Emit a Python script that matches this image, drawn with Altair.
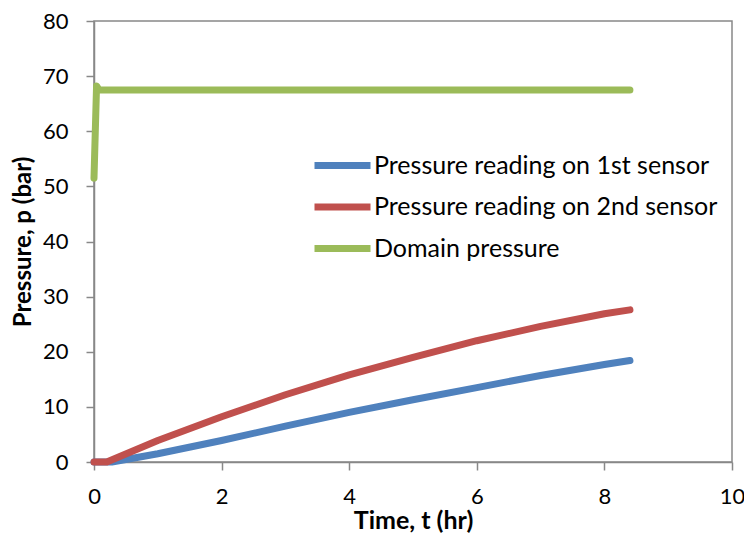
import altair as alt
import pandas as pd

# Data
t_s1 = [0.0, 0.28, 1.0, 2.0, 3.0, 4.0, 5.0, 6.0, 7.0, 8.0, 8.4]
p_s1 = [0.0, 0.0, 1.5, 3.9, 6.5, 9.0, 11.3, 13.5, 15.7, 17.7, 18.4]

t_s2 = [0.0, 0.2, 1.0, 2.0, 3.0, 4.0, 5.0, 6.0, 7.0, 8.0, 8.4]
p_s2 = [0.0, 0.0, 3.9, 8.2, 12.2, 15.8, 19.0, 22.0, 24.6, 26.9, 27.6]

t_dom = [0.0, 0.04, 0.08, 1.0, 4.0, 8.4]
p_dom = [51.5, 68.2, 67.5, 67.5, 67.5, 67.5]

names = ["Pressure reading on 1st sensor", "Pressure reading on 2nd sensor", "Domain pressure"]
colors = ["#4F81BD", "#C0504D", "#9BBB59"]

rows = []
for name, ts, ps in zip(names, [t_s1, t_s2, t_dom], [p_s1, p_s2, p_dom]):
    for i, (t, p) in enumerate(zip(ts, ps)):
        rows.append({"series": name, "t": t, "p": p, "order": i})
df = pd.DataFrame(rows)

FONT = "Lato"

chart = alt.Chart(df).mark_line(strokeWidth=7, strokeCap="round", strokeJoin="round").encode(
    x=alt.X("t:Q", title="Time, t (hr)",
            scale=alt.Scale(domain=[0, 10], nice=False),
            axis=alt.Axis(values=[0, 2, 4, 6, 8, 10], format="d", labelFlush=False)),
    y=alt.Y("p:Q", title="Pressure, p (bar)",
            scale=alt.Scale(domain=[0, 80], nice=False),
            axis=alt.Axis(values=[0, 10, 20, 30, 40, 50, 60, 70, 80], format="d", labelFlush=False)),
    color=alt.Color("series:N", scale=alt.Scale(domain=names, range=colors),
                    legend=alt.Legend(title=None, orient="none", legendX=225, legendY=121,
                                      symbolType="M-1.4,0H1.4", symbolSize=1600,
                                      symbolStrokeWidth=7, labelFontSize=25,
                                      labelFont=FONT, labelColor="#000000",
                                      labelOffset=8, rowPadding=3.5, labelLimit=500)),
    detail="series:N",
    order="order:Q",
).properties(
    width=638, height=441,
    padding={"left": 86, "top": 13, "right": 12, "bottom": 74},
    autosize=alt.AutoSizeParams(type="none"),
).configure_view(
    stroke="#888888", strokeWidth=1.5
).configure_axis(
    grid=False,
    domainColor="#888888", domainWidth=1.5,
    tickColor="#888888", tickSize=8, tickWidth=1.5,
    labelFont=FONT, labelFontSize=22, labelColor="#000000",
    titleFont=FONT, titleFontSize=25, titleFontWeight="bold", titleColor="#000000",
).configure_axisX(
    labelPadding=16, titlePadding=1
).configure_axisY(
    labelPadding=18, titlePadding=7, titleFontSize=24
)

chart.save("out.html", embed_options={"renderer": "svg", "actions": False})
